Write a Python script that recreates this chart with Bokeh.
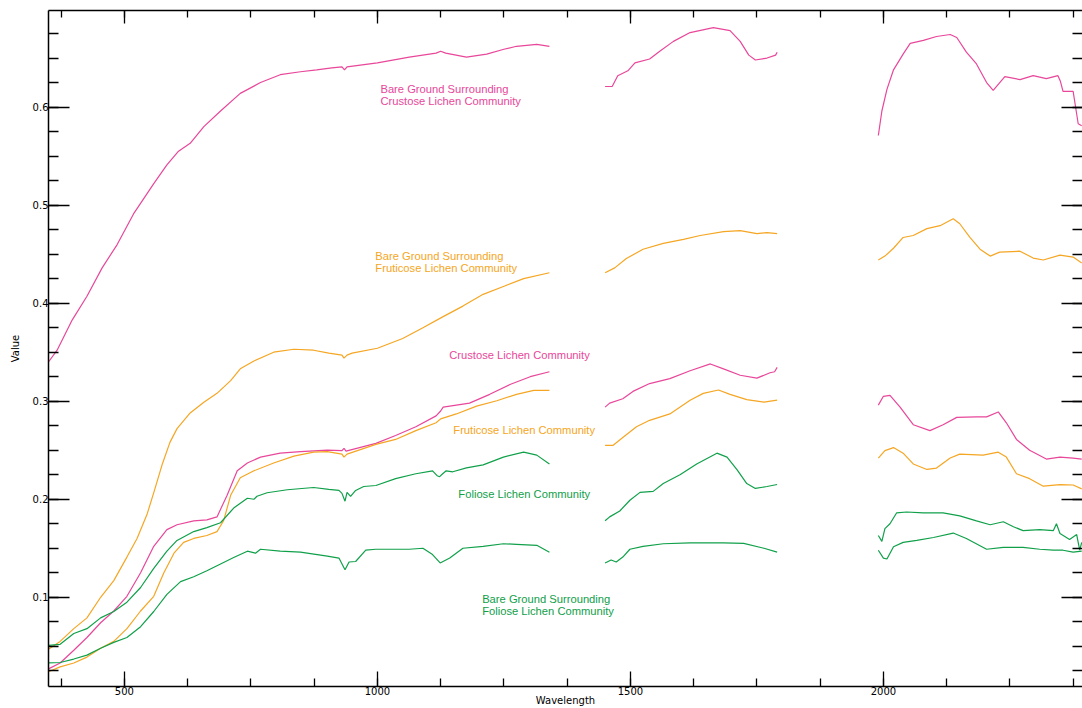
import numpy as np
from bokeh.plotting import figure
from bokeh.models import LinearAxis, SingleIntervalTicker, Range1d, CustomJSTickFormatter
from bokeh.core.properties import value
from bokeh.embed import file_html
from bokeh.resources import INLINE

PINK = "#E8479A"
ORANGE = "#F5A623"
GREEN = "#10A04A"

# ---- data: (wavelength, value) per segment ----
bare_crustose_w = [
    [350, 367, 397, 426, 456, 486, 518, 558, 584, 607, 630, 657, 690, 729, 769, 808, 848, 880, 910, 930, 935, 940, 970, 1000, 1063, 1116, 1125, 1135, 1176, 1216, 1250, 1275, 1315, 1340],
    [1450, 1464, 1475, 1495, 1509, 1538, 1558, 1585, 1618, 1664, 1697, 1717, 1734, 1747, 1770, 1787, 1790],
    [1990, 1997, 2007, 2020, 2039, 2053, 2079, 2105, 2132, 2145, 2164, 2184, 2204, 2217, 2240, 2270, 2296, 2322, 2345, 2350, 2355, 2375, 2385, 2392],
]
bare_crustose_v = [
    [0.340, 0.352, 0.383, 0.407, 0.436, 0.460, 0.491, 0.522, 0.541, 0.555, 0.563, 0.580, 0.596, 0.614, 0.625, 0.633, 0.636, 0.638, 0.640, 0.641, 0.638, 0.641, 0.643, 0.645, 0.651, 0.655, 0.657, 0.655, 0.651, 0.654, 0.659, 0.662, 0.664, 0.662],
    [0.621, 0.621, 0.632, 0.637, 0.645, 0.649, 0.657, 0.667, 0.676, 0.681, 0.678, 0.667, 0.653, 0.648, 0.650, 0.653, 0.656],
    [0.571, 0.596, 0.618, 0.638, 0.654, 0.665, 0.668, 0.672, 0.674, 0.671, 0.656, 0.644, 0.625, 0.617, 0.631, 0.628, 0.632, 0.629, 0.632, 0.626, 0.616, 0.616, 0.583, 0.581],
]

bare_fruticose_w = [
    [350, 373, 400, 426, 453, 479, 505, 525, 545, 560, 575, 590, 604, 630, 657, 683, 710, 729, 756, 795, 835, 874, 904, 930, 934, 940, 950, 1000, 1050, 1090, 1129, 1169, 1209, 1249, 1289, 1340],
    [1450, 1469, 1492, 1525, 1565, 1605, 1638, 1684, 1717, 1750, 1770, 1790],
    [1990, 2003, 2020, 2039, 2059, 2086, 2112, 2138, 2151, 2171, 2191, 2211, 2230, 2270, 2296, 2316, 2349, 2375, 2392],
]
bare_fruticose_v = [
    [0.047, 0.055, 0.068, 0.079, 0.100, 0.117, 0.141, 0.160, 0.185, 0.210, 0.236, 0.258, 0.272, 0.288, 0.299, 0.308, 0.321, 0.333, 0.341, 0.350, 0.353, 0.352, 0.349, 0.347, 0.344, 0.347, 0.349, 0.354, 0.364, 0.375, 0.386, 0.397, 0.409, 0.417, 0.425, 0.431],
    [0.431, 0.436, 0.4455, 0.455, 0.461, 0.465, 0.469, 0.473, 0.474, 0.471, 0.472, 0.471],
    [0.444, 0.448, 0.456, 0.467, 0.469, 0.476, 0.479, 0.486, 0.481, 0.467, 0.455, 0.448, 0.452, 0.453, 0.446, 0.444, 0.449, 0.447, 0.441],
]

crustose_w = [
    [350, 373, 400, 426, 453, 479, 505, 532, 558, 584, 604, 637, 663, 683, 703, 723, 743, 769, 808, 848, 901, 930, 934, 938, 997, 1036, 1076, 1116, 1125, 1130, 1156, 1182, 1222, 1262, 1302, 1340],
    [1450, 1459, 1485, 1505, 1538, 1578, 1618, 1658, 1684, 1717, 1750, 1776, 1785, 1790],
    [1990, 2000, 2013, 2033, 2059, 2092, 2118, 2145, 2184, 2204, 2227, 2243, 2263, 2289, 2322, 2349, 2375, 2392],
]
crustose_v = [
    [0.027, 0.033, 0.046, 0.059, 0.074, 0.086, 0.101, 0.125, 0.152, 0.169, 0.174, 0.178, 0.179, 0.182, 0.204, 0.229, 0.237, 0.243, 0.247, 0.2485, 0.250, 0.2495, 0.252, 0.249, 0.257, 0.265, 0.274, 0.285, 0.290, 0.294, 0.296, 0.298, 0.307, 0.317, 0.325, 0.330],
    [0.294, 0.298, 0.3025, 0.310, 0.318, 0.323, 0.331, 0.338, 0.333, 0.3265, 0.3235, 0.329, 0.330, 0.3345],
    [0.296, 0.305, 0.306, 0.294, 0.276, 0.270, 0.276, 0.2835, 0.284, 0.284, 0.289, 0.278, 0.261, 0.250, 0.241, 0.243, 0.242, 0.241],
]

fruticose_w = [
    [350, 373, 400, 426, 453, 479, 505, 532, 558, 578, 598, 617, 637, 663, 683, 696, 710, 729, 756, 795, 835, 874, 901, 930, 934, 940, 997, 1036, 1076, 1116, 1125, 1156, 1196, 1236, 1275, 1309, 1340],
    [1450, 1466, 1485, 1512, 1538, 1578, 1618, 1644, 1674, 1697, 1730, 1764, 1790],
    [1990, 2003, 2020, 2039, 2059, 2086, 2105, 2132, 2151, 2197, 2227, 2243, 2263, 2289, 2316, 2349, 2375, 2392],
]
fruticose_v = [
    [0.024, 0.029, 0.033, 0.039, 0.048, 0.055, 0.068, 0.086, 0.101, 0.125, 0.145, 0.156, 0.160, 0.163, 0.167, 0.178, 0.204, 0.222, 0.229, 0.237, 0.244, 0.248, 0.2485, 0.246, 0.243, 0.246, 0.256, 0.261, 0.270, 0.278, 0.282, 0.287, 0.295, 0.3005, 0.307, 0.311, 0.311],
    [0.255, 0.255, 0.263, 0.274, 0.2805, 0.287, 0.301, 0.308, 0.3114, 0.307, 0.3016, 0.299, 0.301],
    [0.242, 0.2496, 0.2527, 0.247, 0.236, 0.2304, 0.2318, 0.242, 0.246, 0.245, 0.248, 0.243, 0.226, 0.221, 0.2133, 0.215, 0.2145, 0.2106],
]

foliose_w = [
    [350, 373, 400, 426, 453, 479, 505, 532, 558, 584, 604, 637, 663, 690, 716, 743, 756, 762, 782, 822, 874, 904, 924, 930, 936, 940, 947, 957, 973, 997, 1036, 1076, 1109, 1118, 1123, 1129, 1136, 1149, 1176, 1209, 1249, 1289, 1315, 1340],
    [1450, 1459, 1479, 1499, 1519, 1545, 1565, 1598, 1631, 1671, 1691, 1711, 1730, 1747, 1770, 1790],
    [1990, 1997, 2003, 2013, 2026, 2046, 2079, 2118, 2151, 2184, 2211, 2237, 2257, 2276, 2309, 2336, 2342, 2349, 2368, 2382, 2388, 2392],
]
foliose_v = [
    [0.051, 0.052, 0.063, 0.068, 0.079, 0.0855, 0.095, 0.110, 0.1295, 0.147, 0.158, 0.167, 0.171, 0.176, 0.191, 0.201, 0.200, 0.203, 0.2066, 0.2097, 0.212, 0.210, 0.209, 0.206, 0.198, 0.207, 0.203, 0.209, 0.213, 0.214, 0.221, 0.226, 0.229, 0.224, 0.223, 0.226, 0.229, 0.228, 0.232, 0.235, 0.243, 0.248, 0.245, 0.236],
    [0.178, 0.182, 0.188, 0.199, 0.207, 0.208, 0.216, 0.225, 0.236, 0.247, 0.243, 0.230, 0.216, 0.211, 0.213, 0.215],
    [0.163, 0.157, 0.170, 0.175, 0.186, 0.187, 0.186, 0.186, 0.183, 0.178, 0.174, 0.177, 0.172, 0.168, 0.169, 0.168, 0.175, 0.165, 0.159, 0.164, 0.148, 0.156],
]

bare_foliose_w = [
    [350, 373, 400, 426, 453, 479, 505, 532, 558, 584, 611, 637, 663, 690, 716, 743, 759, 769, 808, 848, 901, 924, 936, 944, 957, 977, 997, 1063, 1090, 1109, 1124, 1143, 1169, 1209, 1249, 1275, 1315, 1340],
    [1450, 1462, 1472, 1485, 1499, 1525, 1565, 1618, 1684, 1724, 1764, 1790],
    [1990, 2000, 2007, 2020, 2039, 2066, 2099, 2138, 2164, 2204, 2237, 2276, 2309, 2336, 2355, 2375, 2392],
]
bare_foliose_v = [
    [0.033, 0.0335, 0.037, 0.041, 0.048, 0.054, 0.059, 0.070, 0.0855, 0.103, 0.116, 0.121, 0.127, 0.134, 0.1405, 0.147, 0.145, 0.149, 0.147, 0.146, 0.142, 0.140, 0.128, 0.136, 0.1365, 0.148, 0.149, 0.149, 0.150, 0.1436, 0.135, 0.140, 0.150, 0.152, 0.1546, 0.154, 0.153, 0.146],
    [0.135, 0.138, 0.136, 0.141, 0.149, 0.152, 0.1546, 0.1555, 0.1555, 0.155, 0.150, 0.146],
    [0.148, 0.140, 0.139, 0.1515, 0.156, 0.158, 0.161, 0.1655, 0.160, 0.149, 0.151, 0.151, 0.149, 0.148, 0.148, 0.146, 0.147],
]

series = [
    (bare_crustose_w, bare_crustose_v, PINK),
    (bare_fruticose_w, bare_fruticose_v, ORANGE),
    (crustose_w, crustose_v, PINK),
    (fruticose_w, fruticose_v, ORANGE),
    (foliose_w, foliose_v, GREEN),
    (bare_foliose_w, bare_foliose_v, GREEN),
]

label_texts = ["Bare Ground Surrounding", "Crustose Lichen Community",
               "Bare Ground Surrounding", "Fruticose Lichen Community",
               "Crustose Lichen Community",
               "Fruticose Lichen Community",
               "Foliose Lichen Community",
               "Bare Ground Surrounding", "Foliose Lichen Community"]
label_x = [1006, 1006, 996, 996, 1142, 1150, 1160, 1207, 1207]
label_y = [0.618, 0.606, 0.4483, 0.436, 0.3475, 0.2711, 0.2049, 0.098, 0.0857]
label_colors = [PINK, PINK, ORANGE, ORANGE, PINK, ORANGE, GREEN, GREEN, GREEN]

W, H = 1082, 708
p = figure(width=W, height=H, output_backend="svg", toolbar_location=None,
           x_range=Range1d(350, 2393.5), y_range=Range1d(0.009, 0.6985),
           min_border_left=48, min_border_top=10, min_border_bottom=22, min_border_right=0)
p.grid.visible = False
p.outline_line_color = None
p.background_fill_color = "white"
p.border_fill_color = "white"

for ws, vs, col in series:
    p.multi_line(xs=ws, ys=vs, line_color=col, line_width=1.2)

p.text(x=label_x, y=label_y, text=label_texts, text_color=label_colors,
       text_font=value("Liberation Sans"), text_font_size="11.2px",
       text_baseline="middle", text_align="left")

FONT = "DejaVu Sans"
xa = p.xaxis[0]
xa.ticker = SingleIntervalTicker(interval=500, num_minor_ticks=4)
xa.axis_label = "Wavelength"
ya = p.yaxis[0]
ya.ticker = SingleIntervalTicker(interval=0.1, num_minor_ticks=4)
ya.axis_label = "Value"

for ax in (xa, ya):
    ax.major_tick_out = 0
    ax.minor_tick_out = 0
    ax.axis_line_width = 1.5
    ax.major_tick_line_width = 1.3
    ax.minor_tick_line_width = 1.3
    ax.major_label_text_font = FONT
    ax.major_label_text_font_size = "10px"
    ax.major_label_text_color = "black"
    ax.axis_label_text_font = FONT
    ax.axis_label_text_font_size = "10px"
    ax.axis_label_text_font_style = "normal"
    ax.axis_label_text_color = "black"

xa.major_tick_in = 15
xa.minor_tick_in = 8
ya.major_tick_in = 21
ya.minor_tick_in = 10
ya.major_label_standoff = 0
ya.axis_label_standoff = 9
xa.major_label_standoff = 0
xa.axis_label_standoff = -3

top = LinearAxis(ticker=SingleIntervalTicker(interval=500, num_minor_ticks=4),
                 formatter=CustomJSTickFormatter(code="return ''"), major_label_standoff=0,
                 major_tick_out=0, minor_tick_out=0, major_tick_in=13, minor_tick_in=7,
                 axis_line_width=1.5, major_tick_line_width=1.3, minor_tick_line_width=1.3)
right = LinearAxis(ticker=SingleIntervalTicker(interval=0.1, num_minor_ticks=4),
                   formatter=CustomJSTickFormatter(code="return ''"), major_label_standoff=0,
                   major_tick_out=0, minor_tick_out=0, major_tick_in=21, minor_tick_in=10,
                   axis_line_color=None, major_tick_line_width=1.3, minor_tick_line_width=1.3)
p.add_layout(top, "above")
p.add_layout(right, "right")

open("out.html", "w").write(file_html(p, INLINE))
